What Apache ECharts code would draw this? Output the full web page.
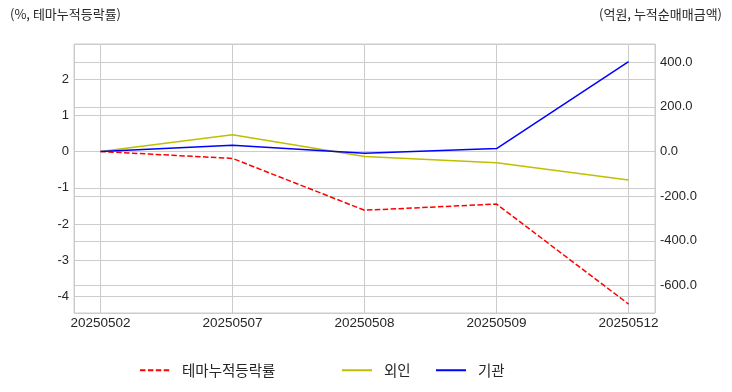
<!DOCTYPE html>
<html><head><meta charset="utf-8">
<script src="https://cdn.jsdelivr.net/npm/echarts@6/dist/echarts.min.js"></script>
<style>html,body{margin:0;padding:0;background:#fff}#c{width:732px;height:392px}</style>
</head><body><div id="c"></div>
<script>
const categories = ['20250502', '20250507', '20250508', '20250509', '20250512'];
const themeReturn = [0, -0.19, -1.62, -1.45, -4.21];
const foreign = [0, 75, -23, -51, -128];
const institution = [0, 28, -8, 13, 402];
const leftTicks = [-4, -3, -2, -1, 0, 1, 2];
const rightTicks = [-600, -400, -200, 0, 200, 400];
const seriesNames = ['테마누적등락률', '외인', '기관'];

const toPts = arr => arr.map((v, i) => [i, v]);
const font = 'Liberation Sans, Arial, "Noto Sans CJK KR", sans-serif';
const kfont = '"Noto Sans CJK KR", Liberation Sans, sans-serif';
const txt = '#262626';
const gridC = '#cccccc';

const legendBase = {
  top: 358, itemWidth: 30, itemHeight: 14,
  itemStyle: { opacity: 0 },
  lineStyle: { width: 2 },
  textStyle: { color: txt, fontSize: 14.5, fontFamily: kfont, padding: [0, 0, 0, 7] }
};

const chart = echarts.init(document.getElementById('c'));
chart.setOption({
  animation: false,
  backgroundColor: '#fff',
  grid: { left: 74, right: 77, top: 44, bottom: 79, show: true, borderColor: gridC, borderWidth: 1, containLabel: false },
  xAxis: {
    type: 'value', min: -0.2, max: 4.2, splitNumber: 5,
    axisLine: { show: false }, axisTick: { show: false },
    splitLine: { show: true, lineStyle: { color: gridC, width: 1 } },
    axisLabel: {
      color: txt, fontSize: 13.5, fontFamily: font, margin: 4,
      showMinLabel: false, showMaxLabel: false,
      formatter: v => (Math.abs(v - Math.round(v)) < 1e-6 && categories[Math.round(v)]) ? categories[Math.round(v)] : ''
    }
  },
  yAxis: [
    {
      type: 'value', min: -4.455, max: 2.966, splitNumber: 7, position: 'left',
      axisLine: { show: false }, axisTick: { show: false },
      splitLine: { show: true, lineStyle: { color: gridC, width: 1 } },
      axisLabel: {
        color: txt, fontSize: 13, fontFamily: font, margin: 5,
        showMinLabel: false, showMaxLabel: false,
        formatter: v => leftTicks.some(t => Math.abs(t - v) < 1e-6) ? String(Math.round(v)) : ''
      }
    },
    {
      type: 'value', min: -723, max: 481, splitNumber: 6, position: 'right',
      axisLine: { show: false }, axisTick: { show: false },
      splitLine: { show: true, lineStyle: { color: gridC, width: 1 } },
      axisLabel: {
        color: txt, fontSize: 13, fontFamily: font, margin: 5,
        showMinLabel: false, showMaxLabel: false,
        formatter: v => rightTicks.some(t => Math.abs(t - v) < 1e-6) ? Math.round(v).toFixed(1) : ''
      }
    }
  ],
  graphic: [
    { type: 'text', left: 10, top: 8, style: { text: '(%, 테마누적등락률)', fill: txt, font: '13px ' + kfont } },
    { type: 'text', right: 10, top: 8, style: { text: '(억원, 누적순매매금액)', fill: txt, font: '13px ' + kfont } }
  ],
  legend: [
    Object.assign({ data: [seriesNames[0]], left: 134 }, legendBase),
    Object.assign({ data: [seriesNames[1]], left: 336 }, legendBase),
    Object.assign({ data: [seriesNames[2]], left: 430 }, legendBase)
  ],
  series: [
    { name: seriesNames[0], type: 'line', yAxisIndex: 0, data: toPts(themeReturn), symbol: 'none', color: '#ff0000',
      lineStyle: { color: '#ff0000', width: 1.5, type: [5.5, 2.4] } },
    { name: seriesNames[1], type: 'line', yAxisIndex: 1, data: toPts(foreign), symbol: 'none', color: '#bfbf00',
      lineStyle: { color: '#bfbf00', width: 1.5 } },
    { name: seriesNames[2], type: 'line', yAxisIndex: 1, data: toPts(institution), symbol: 'none', color: '#0000ff',
      lineStyle: { color: '#0000ff', width: 1.5 } }
  ]
});
</script></body></html>
